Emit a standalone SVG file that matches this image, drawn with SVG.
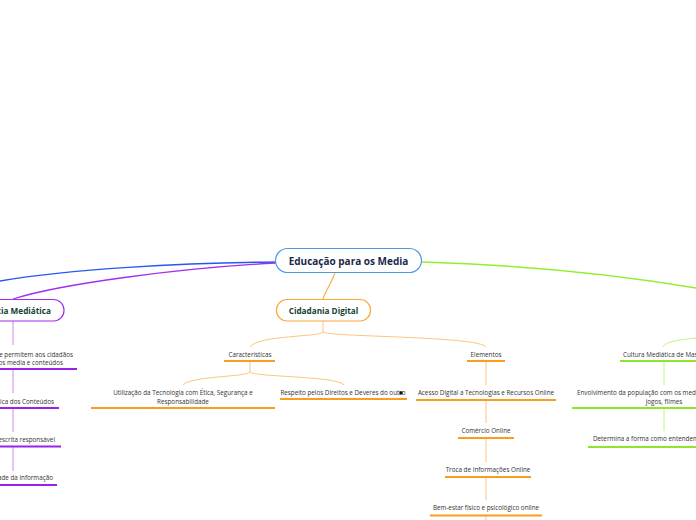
<svg xmlns="http://www.w3.org/2000/svg" width="696" height="520" viewBox="0 0 696 520">
<style>
text{font-family:"Open Sans","Noto Sans","DejaVu Sans",sans-serif;}
.lbl{font-size:6.3px;fill:#333;}
.mid{text-anchor:middle;}
.end{text-anchor:end;}
.main{font-size:10px;font-weight:bold;fill:#1b2a4a;text-anchor:middle;}
.sub{font-size:8.2px;font-weight:bold;fill:#133f33;}
.c{fill:none;}
.ob{stroke:#fcc57f;stroke-width:1;fill:none;}
.pb{stroke:#cf86f2;stroke-width:1;fill:none;}
.gb{stroke:#bdf28a;stroke-width:1;fill:none;}
.ou{stroke:#fa9d1e;stroke-width:2;}
.pu{stroke:#9a22e6;stroke-width:2;}
.gu{stroke:#8ee52e;stroke-width:2;}
</style>
<rect width="696" height="520" fill="#fff"/>
<g id="connectors">
<path d="M276,262 C180,263 70,269 0,281" stroke="#2458f5" stroke-width="1.5" fill="none"/>
<path d="M276,263 C180,268 60,284 13,299" stroke="#a22ef0" stroke-width="1.3" fill="none"/>
<path d="M422,262 C520,265 620,275 696,288" stroke="#8ef02c" stroke-width="1.5" fill="none"/>
<path d="M335,273 C330,286 325,292 323,299" stroke="#f9b04a" stroke-width="1.2" fill="none"/>
<path class="ob" d="M323,321 V332 C321,337 258,335 250,347"/>
<path class="ob" d="M323,332 C326,337 480,336 486,347"/>
<path class="ob" d="M250,361 V372 C247,377 190,376 183,385"/>
<path class="ob" d="M250,372 C253,377 338,376 344,385"/>
<path class="ob" d="M486,361 V385 M486,400 V423 M486,438 V462 M486,477 V500 M486,516 V520"/>
<path class="pb" d="M13,321 V345 M13,369 V393 M13,408 V432 M13,447 V471"/>
<path class="gb" d="M696,338 C680,340 666,341 663,347"/>
<path class="gb" d="M664,361 V385 M664,408 V431"/>
</g>
<g id="node-central">
<rect x="275.5" y="248.5" width="146" height="24" rx="12" fill="#fff" stroke="#4d9be0" stroke-width="1.2"/>
<text class="main" x="348.5" y="264.5">Educação para os Media</text>
</g>
<g id="node-competencia">
<rect x="-80" y="299.5" width="144" height="21.5" rx="10.5" fill="#fff" stroke="#a22ef0" stroke-width="1.2"/>
<text class="sub end" x="51" y="313.5">Competência Mediática</text>
</g>
<g id="node-cidadania">
<rect x="276.5" y="299.5" width="94" height="21.5" rx="10.5" fill="#fff" stroke="#f9a83c" stroke-width="1.2"/>
<text class="sub mid" x="323.5" y="313.5">Cidadania Digital</text>
</g>
<g id="node-caracteristicas">
<text class="lbl mid" x="250" y="357">Características</text>
<line class="ou" x1="224" y1="361" x2="275" y2="361"/>
</g>
<g id="node-utilizacao">
<text class="lbl mid" x="183" y="394.5">Utilização da Tecnologia com Ética, Segurança e</text>
<text class="lbl mid" x="183" y="403.5">Responsabilidade</text>
<line class="ou" x1="91" y1="408" x2="275" y2="408"/>
</g>
<g id="node-respeito">
<text class="lbl mid" x="343" y="394.5">Respeito pelos Direitos e Deveres do outro</text>
<line class="ou" x1="280" y1="399" x2="407" y2="399"/>
<rect x="399.5" y="391.5" width="3" height="3" fill="#111"/>
</g>
<g id="node-elementos">
<text class="lbl mid" x="486" y="357">Elementos</text>
<line class="ou" x1="467" y1="361" x2="505" y2="361"/>
</g>
<g id="node-acesso">
<text class="lbl mid" x="486" y="395">Acesso Digital a Tecnologias e Recursos Online</text>
<line class="ou" x1="416" y1="400" x2="556" y2="400"/>
</g>
<g id="node-comercio">
<text class="lbl mid" x="486" y="433">Comércio Online</text>
<line class="ou" x1="458" y1="438" x2="514" y2="438"/>
</g>
<g id="node-troca">
<text class="lbl mid" x="488" y="472">Troca de Informações Online</text>
<line class="ou" x1="445" y1="477" x2="531" y2="477"/>
</g>
<g id="node-bemestar">
<text class="lbl mid" x="486" y="510">Bem-estar físico e psicológico online</text>
<line class="ou" x1="430" y1="515.5" x2="542" y2="515.5"/>
</g>
<g id="node-capacidades">
<text class="lbl end" x="73" y="356.5">Capacidades que permitem aos cidadãos</text>
<text class="lbl end" x="63" y="364.5">compreender os media e conteúdos</text>
<line class="pu" x1="-40" y1="369" x2="77" y2="369"/>
</g>
<g id="node-analise">
<text class="lbl end" x="54" y="403.5">Análise Crítica dos Conteúdos</text>
<line class="pu" x1="-40" y1="408" x2="59" y2="408"/>
</g>
<g id="node-leitura">
<text class="lbl end" x="55" y="441.5">Leitura e escrita responsável</text>
<line class="pu" x1="-40" y1="446.5" x2="61" y2="446.5"/>
</g>
<g id="node-credibilidade">
<text class="lbl end" x="53" y="480">Credibilidade da informação</text>
<line class="pu" x1="-40" y1="485" x2="57" y2="485"/>
</g>
<g id="node-cultura">
<text class="lbl" x="623" y="356.5">Cultura Mediática de Massas</text>
<line class="gu" x1="620" y1="361" x2="720" y2="361"/>
</g>
<g id="node-envolvimento">
<text class="lbl" x="577" y="394.5">Envolvimento da população com os media: televisão, rádio,</text>
<text class="lbl mid" x="664" y="403.5">jogos, filmes</text>
<line class="gu" x1="572" y1="408" x2="760" y2="408"/>
</g>
<g id="node-determina">
<text class="lbl" x="593" y="441">Determina a forma como entendemos o mundo</text>
<line class="gu" x1="588" y1="447" x2="740" y2="447"/>
</g>
</svg>
